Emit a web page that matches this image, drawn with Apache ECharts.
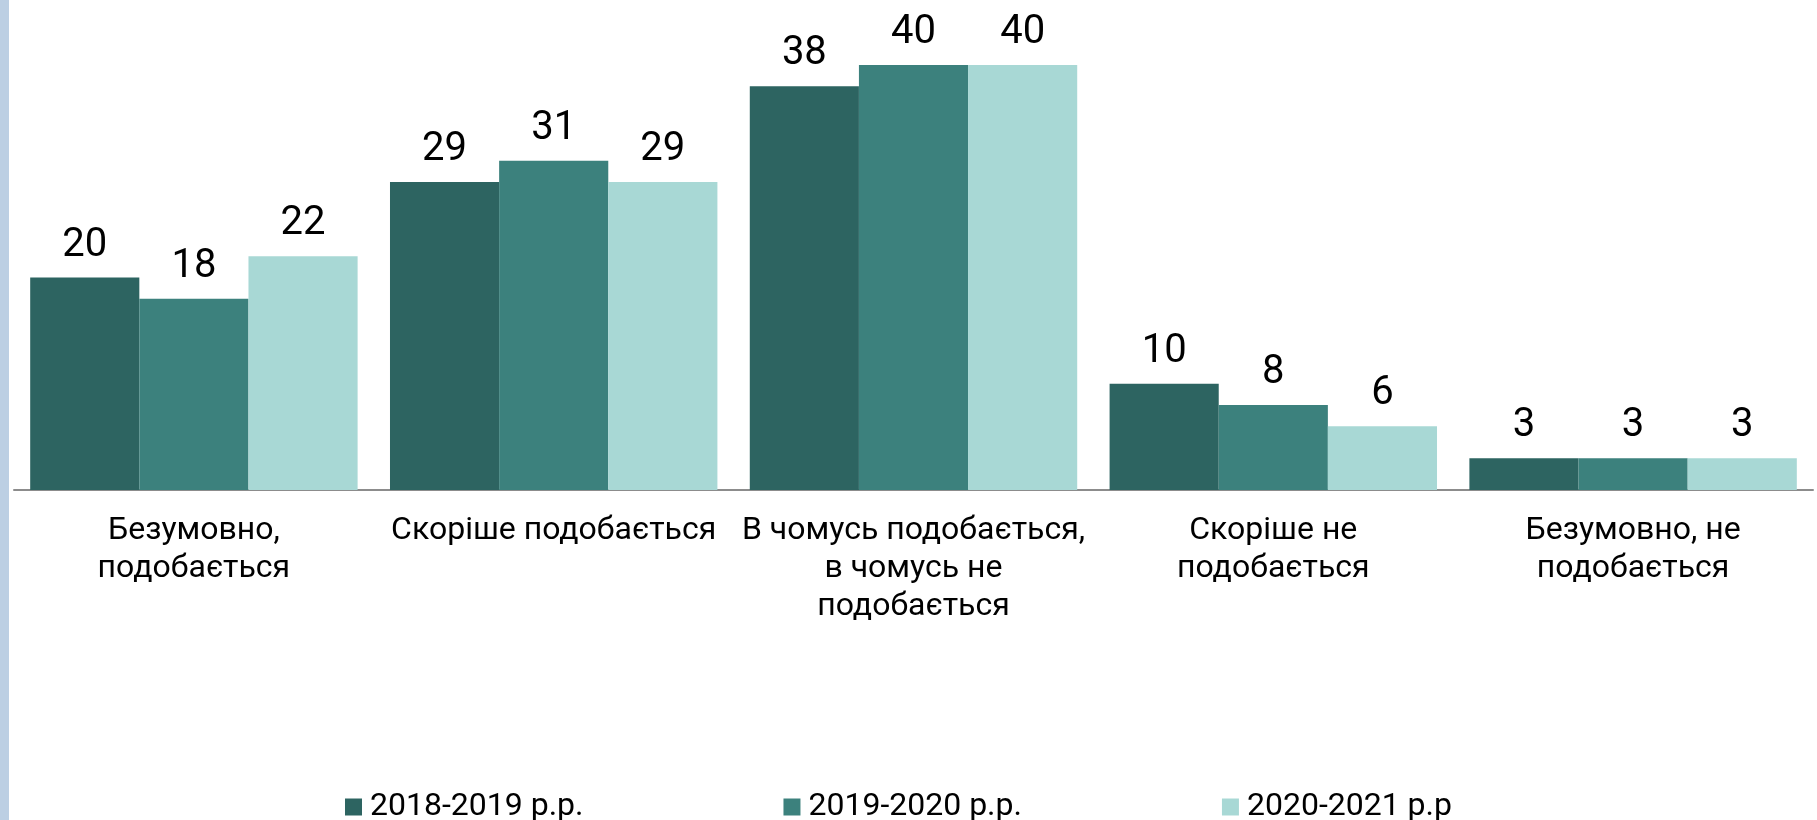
<!DOCTYPE html>
<html>
<head>
<meta charset="utf-8">
<script src="https://cdn.jsdelivr.net/npm/echarts@6/dist/echarts.min.js"></script>
<style>
  html, body { margin: 0; padding: 0; background: #fff; }
  #chart { width: 1817px; height: 820px; }
  .strip { position: absolute; left: 0; top: 0; width: 9px; height: 820px; background: #BCCFE3; }
</style>
</head>
<body>
<div id="chart"></div>
<div class="strip"></div>
<script>
// categories and series values
const categories = [
  'Безумовно,\nподобається',
  'Скоріше подобається',
  'В чомусь подобається,\nв чомусь не\nподобається',
  'Скоріше не\nподобається',
  'Безумовно, не\nподобається'
]
const seriesNames = ['2018-2019 р.р.', '2019-2020 р.р.', '2020-2021 р.р']
const values2018 = [20, 29, 38, 10, 3]
const values2019 = [18, 31, 40, 8, 3]
const values2020 = [22, 29, 40, 6, 3]
const colors = ['#2D6461', '#3C817D', '#A8D8D5']

const font = 'Roboto, "Noto Sans", sans-serif'

function bar(name, data) {
  return {
    name: name,
    type: 'bar',
    barGap: 0,
    barCategoryGap: '9%',
    data: data,
    label: {
      show: true,
      position: 'top',
      distance: 12,
      color: '#000',
      fontFamily: font,
      fontSize: 40
    }
  }
}

const chart = echarts.init(document.getElementById('chart'))
chart.setOption({
  animation: false,
  color: colors,
  grid: {
    left: 14,
    right: 4,
    top: 65,
    bottom: 330
  },
  legend: {
    left: 340,
    top: 786,
    itemWidth: 17,
    itemHeight: 17,
    itemGap: 200,
    icon: 'rect',
    textStyle: {
      fontFamily: font,
      fontSize: 32,
      color: '#000',
      padding: [0, 0, 0, 3]
    },
    data: seriesNames
  },
  xAxis: {
    type: 'category',
    data: categories,
    axisLine: { lineStyle: { color: '#8C8C8C', width: 2 } },
    axisTick: { length: 11, lineStyle: { color: '#8C8C8C', width: 2 } },
    axisLabel: {
      interval: 0,
      margin: 22,
      color: '#000',
      fontFamily: font,
      fontSize: 32,
      lineHeight: 38
    }
  },
  yAxis: {
    type: 'value',
    min: 0,
    max: 40,
    show: false,
    splitLine: { show: false }
  },
  series: [
    bar(seriesNames[0], values2018),
    bar(seriesNames[1], values2019),
    bar(seriesNames[2], values2020)
  ]
})
</script>
</body>
</html>
